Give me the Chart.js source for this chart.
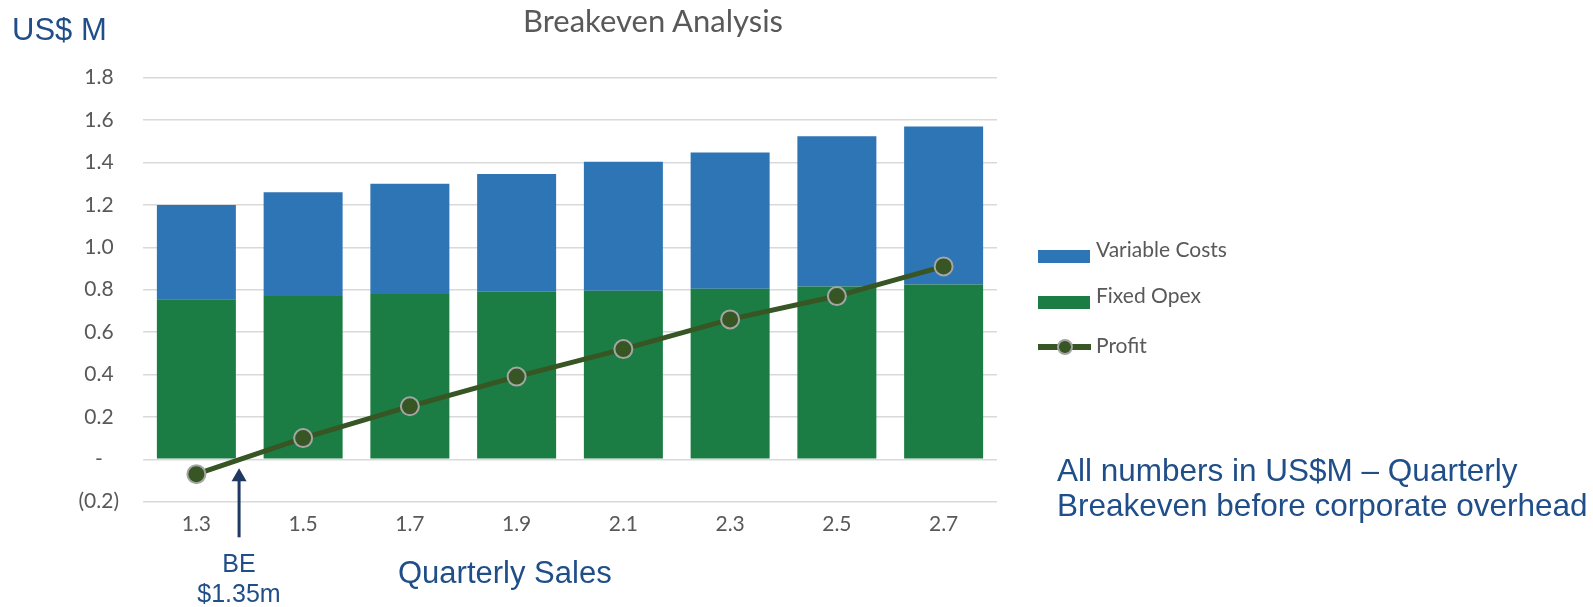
<!DOCTYPE html>
<html>
<head>
<meta charset="utf-8">
<script src="https://cdn.jsdelivr.net/npm/chart.js@4.4.0/dist/chart.umd.min.js"></script>
<style>
    html, body { margin: 0; padding: 0; background: #fff; }
    #wrap { position: relative; width: 1593px; height: 607px; overflow: hidden; }
    #chart { position: absolute; left: 0; top: 0; }
    .note { position: absolute; font-family: "Liberation Sans", Arial, sans-serif; color: #1F4E89; line-height: 1; white-space: nowrap; }
    #title { position: absolute; left: 0; width: 1306px; top: 5px; text-align: center; font-family: Lato, sans-serif; font-size: 31px; line-height: 1; color: #595959; }
    #legend { position: absolute; left: 1038px; top: 0; font-family: Lato, sans-serif; font-size: 21px; color: #595959; }
    .lg-item { position: absolute; left: 0; width: 260px; height: 30px; }
    .lg-text { position: absolute; left: 58px; top: -3px; line-height: 1; white-space: nowrap; }
    .lg-box { position: absolute; left: 0; width: 52px; height: 13px; }
    .lg-line { position: absolute; left: 0; width: 53px; height: 6px; }
    .lg-dot { position: absolute; left: 19px; width: 12px; height: 12px; border-radius: 50%; border: 2px solid #A5A5A5; }
</style>
</head>
<body>
<div id="wrap">
    <canvas id="chart" width="1593" height="607"></canvas>
    <div id="title">Breakeven Analysis</div>
    <div id="legend"></div>
    <div class="note" style="left:12px; top:14px; font-size:31px;">US$ M</div>
    <div class="note" style="left:398px; top:557px; font-size:31px;">Quarterly Sales</div>
    <div class="note" style="left:189px; top:551px; width:100px; text-align:center; font-size:25px;">BE</div>
    <div class="note" style="left:189px; top:581px; width:100px; text-align:center; font-size:25px;">$1.35m</div>
    <div class="note" style="left:1057px; top:455px; font-size:31.5px;">All numbers in US$M – Quarterly</div>
    <div class="note" style="left:1057px; top:490px; font-size:31.5px;">Breakeven before corporate overhead</div>
</div>
<script>
// Data
const salesLabels = ['1.3', '1.5', '1.7', '1.9', '2.1', '2.3', '2.5', '2.7'];
const fixedOpex = [0.755, 0.77, 0.78, 0.79, 0.795, 0.805, 0.815, 0.825];
const variableCosts = [0.445, 0.49, 0.52, 0.556, 0.608, 0.642, 0.709, 0.745];
const profit = [-0.07, 0.10, 0.25, 0.39, 0.52, 0.66, 0.77, 0.91];
const yTicks = [-0.2, 0, 0.2, 0.4, 0.6, 0.8, 1.0, 1.2, 1.4, 1.6, 1.8];

const BLUE = '#2E75B6';
const GREEN = '#1B7D43';
const OLIVE = '#375623';
const GREY_TEXT = '#595959';

// Breakeven arrow, placed on the category scale (between 1.3 and 1.5)
const beArrow = {
    id: 'beArrow',
    afterDraw(chart) {
        const ctx = chart.ctx;
        const x = chart.scales.x.getPixelForValue(0.4);
        const tip = chart.scales.y.getPixelForValue(0) + 9;
        const bottom = tip + 69;
        ctx.save();
        ctx.strokeStyle = '#1F3864';
        ctx.fillStyle = '#1F3864';
        ctx.lineWidth = 3;
        ctx.beginPath();
        ctx.moveTo(x, tip + 10);
        ctx.lineTo(x, bottom);
        ctx.stroke();
        ctx.beginPath();
        ctx.moveTo(x, tip);
        ctx.lineTo(x - 7.5, tip + 13);
        ctx.lineTo(x + 7.5, tip + 13);
        ctx.closePath();
        ctx.fill();
        ctx.restore();
    }
};

const ctx = document.getElementById('chart').getContext('2d');
const chart = new Chart(ctx, {
    type: 'bar',
    data: {
        labels: salesLabels,
        datasets: [
            {
                type: 'line',
                label: 'Profit',
                data: profit,
                order: 0,
                borderColor: OLIVE,
                borderWidth: 5,
                backgroundColor: OLIVE,
                pointRadius: 9,
                pointBorderWidth: 2,
                pointBorderColor: '#A5A5A5',
                pointBackgroundColor: OLIVE,
                tension: 0
            },
            {
                label: 'Fixed Opex',
                data: fixedOpex,
                order: 1,
                backgroundColor: GREEN,
                barPercentage: 0.74,
                categoryPercentage: 1.0
            },
            {
                label: 'Variable Costs',
                data: variableCosts,
                order: 1,
                backgroundColor: BLUE,
                barPercentage: 0.74,
                categoryPercentage: 1.0
            }
        ]
    },
    options: {
        responsive: false,
        animation: false,
        layout: { padding: { left: 0, top: 77.7, right: 596, bottom: 0 } },
        plugins: {
            legend: { display: false },
            tooltip: { enabled: false },
            title: { display: false }
        },
        scales: {
            x: {
                stacked: true,
                afterFit(scale) { scale.height = 105.3; },
                grid: { display: false, drawTicks: false },
                border: { display: false },
                ticks: {
                    color: GREY_TEXT,
                    padding: 10,
                    font: { family: 'Lato', size: 21 }
                }
            },
            y: {
                stacked: true,
                min: -0.2,
                max: 1.8,
                afterFit(scale) { scale.width = 143; },
                afterBuildTicks(scale) {
                    scale.ticks = yTicks.map(v => ({ value: v }));
                },
                grid: { color: '#D9D9D9', lineWidth: 1.5, drawTicks: false },
                border: { display: false },
                ticks: {
                    color: GREY_TEXT,
                    padding: 24,
                    font: { family: 'Lato', size: 21 },
                    callback(value) {
                        const v = Math.round(value * 10) / 10;
                        if (v === 0) return '-   ';
                        if (v < 0) return '(' + Math.abs(v).toFixed(1) + ')';
                        return v.toFixed(1) + ' ';
                    }
                }
            }
        }
    },
    plugins: [beArrow]
});

// Legend built from the datasets, in Excel's order
const legendEl = document.getElementById('legend');
const legendOrder = ['Variable Costs', 'Fixed Opex', 'Profit'];
const legendTops = [241, 287, 337];
legendOrder.forEach((name, i) => {
    const ds = chart.data.datasets.find(d => d.label === name);
    const item = document.createElement('div');
    item.className = 'lg-item';
    item.style.top = legendTops[i] + 'px';
    if (ds.type === 'line') {
        item.innerHTML = '<div class="lg-line" style="top:7px;background:' + ds.borderColor + '"></div>' +
            '<div class="lg-dot" style="top:2px;background:' + ds.pointBackgroundColor + '"></div>';
    } else {
        item.innerHTML = '<div class="lg-box" style="top:9px;background:' + ds.backgroundColor + '"></div>';
    }
    const text = document.createElement('div');
    text.className = 'lg-text';
    text.textContent = ds.label;
    item.appendChild(text);
    legendEl.appendChild(item);
});
</script>
</body>
</html>
